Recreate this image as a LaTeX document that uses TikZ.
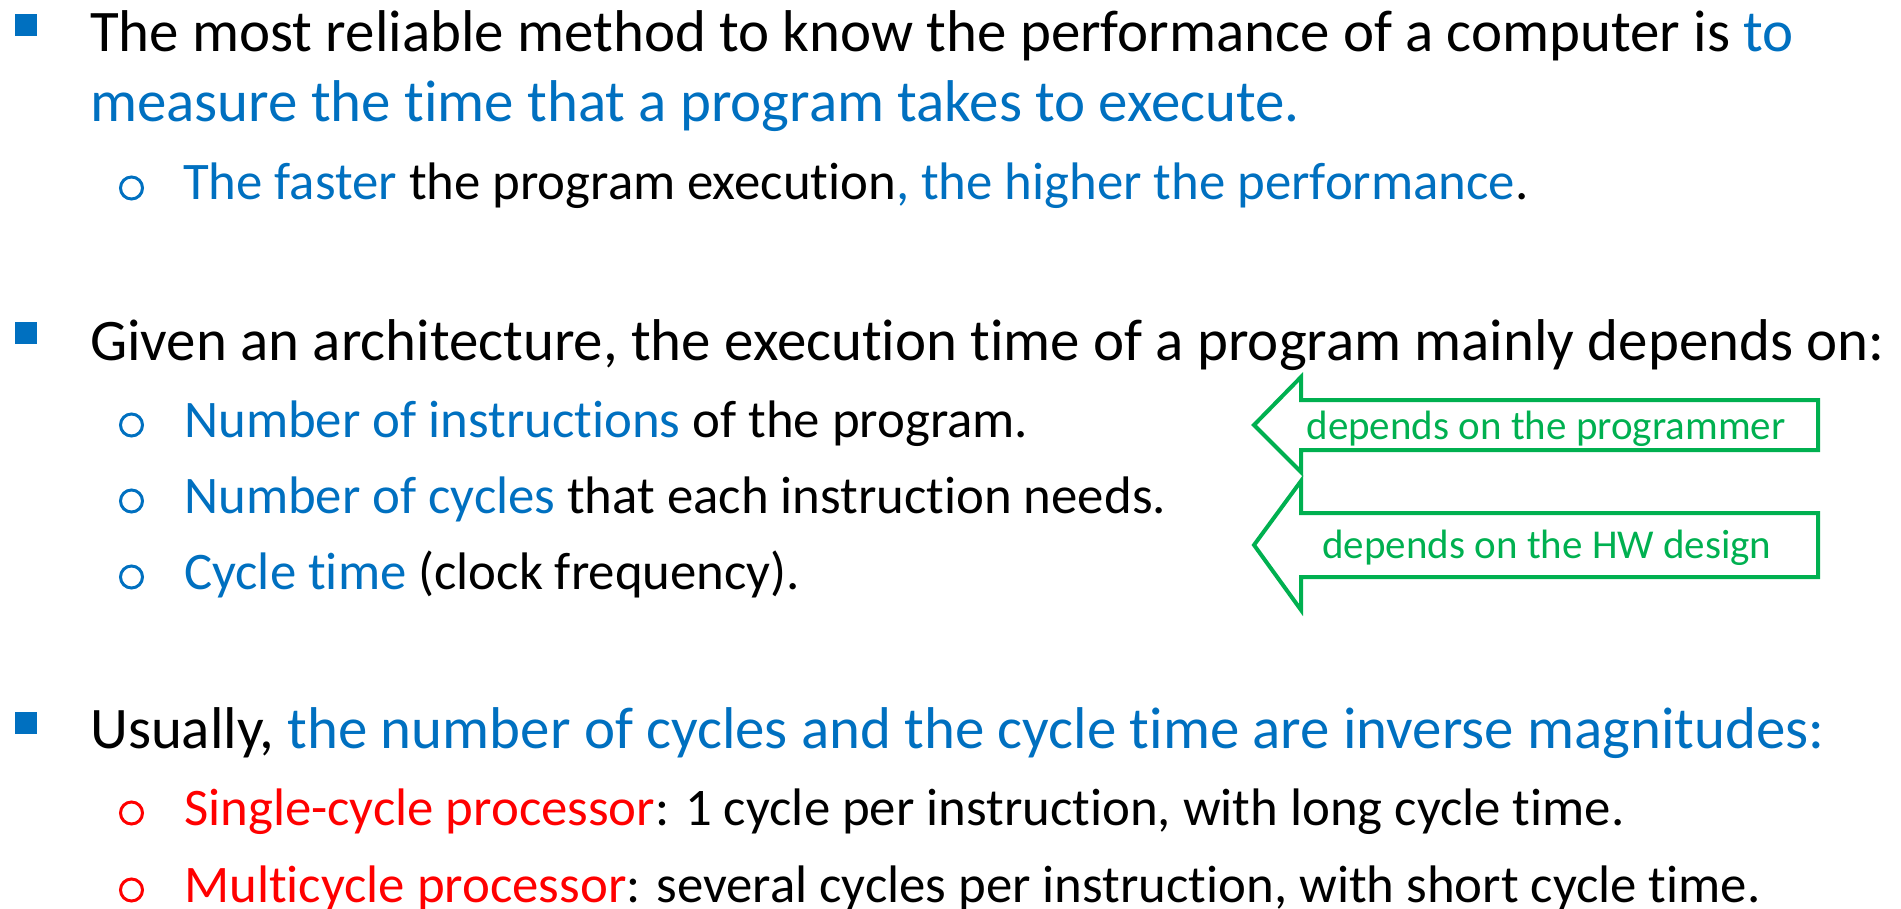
\documentclass[tikz,border=0pt]{standalone}
\usepackage{fontspec}
\setmainfont{Carlito}[Ligatures=NoCommon]
\definecolor{accent}{HTML}{0070C0}
\definecolor{warn}{HTML}{FF0000}
\definecolor{note}{HTML}{00B050}

\begin{document}
\begin{tikzpicture}[x=1pt,y=-1pt,
  main/.style={anchor=base west, inner sep=0pt, font=\fontsize{58.9}{70}\selectfont},
  subitem/.style={anchor=base west, inner sep=0pt, font=\fontsize{52.8}{63}\selectfont},
  sqbullet/.style={rectangle, fill=accent, inner sep=0pt, minimum size=22pt},
  circbullet/.style={circle, draw=#1, line width=3pt, inner sep=0pt, minimum size=22pt},
  callout/.style={draw=note, line width=4pt, line join=miter},
  calloutlabel/.style={anchor=base, inner sep=0pt, text=note, font=\fontsize{41}{49}\selectfont}
]
\useasboundingbox (0,0) rectangle (1901,909);

% --- first point ---
\node[sqbullet] (b1) at (26,25) {};
\node[main] (l1) at (90,52) {The most reliable method to know the performance of a computer is \textcolor{accent}{to}};
\node[main, text=accent] (l2) at (90,122) {measure the time that a program takes to execute.};
\node[circbullet=accent] (c1) at (131.5,188) {};
\node[subitem] (s1) at (183,200) {\textcolor{accent}{The faster} the program execution\textcolor{accent}{, the higher the performance}.};

% --- second point ---
\node[sqbullet] (b2) at (26,333) {};
\node[main] (l3) at (90,360) {Given an architecture, the execution time of a program mainly depends on:};
\node[circbullet=accent] (c2) at (131.5,425) {};
\node[subitem] (s2) at (184,437) {\textcolor{accent}{Number of instructions} of the program.};
\node[circbullet=accent] (c3) at (131.5,501) {};
\node[subitem] (s3) at (184,513) {\textcolor{accent}{Number of cycles} that each instruction needs.};
\node[circbullet=accent] (c4) at (131.5,577) {};
\node[subitem] (s4) at (184,589) {\textcolor{accent}{Cycle time} (clock frequency).};

% --- callout arrows ---
\draw[callout] (1254,425) -- (1301,377) -- (1301,400) -- (1818,400) -- (1818,450)
  -- (1301,450) -- (1301,472) -- cycle;
\node[calloutlabel] (t1) at (1546,439) {depends on the programmer};
\draw[callout] (1254,545) -- (1301,481) -- (1301,513) -- (1818,513) -- (1818,577)
  -- (1301,577) -- (1301,610) -- cycle;
\node[calloutlabel] (t2) at (1547,558) {depends on the HW design};

% --- third point ---
\node[sqbullet] (b3) at (26,722.5) {};
\node[main] (l4) at (90,748) {Usually, \textcolor{accent}{the number of cycles and the cycle time are inverse magnitudes:}};
\node[circbullet=warn] (c5) at (131.5,813) {};
\node[subitem] (s5) at (184,825) {\textcolor{warn}{Single-cycle processor}: 1 cycle per instruction, with long cycle time.};
\node[circbullet=warn] (c6) at (131.5,890) {};
\node[subitem] (s6) at (184,902) {\textcolor{warn}{Multicycle processor}: several cycles per instruction, with short cycle time.};
\end{tikzpicture}
\end{document}
